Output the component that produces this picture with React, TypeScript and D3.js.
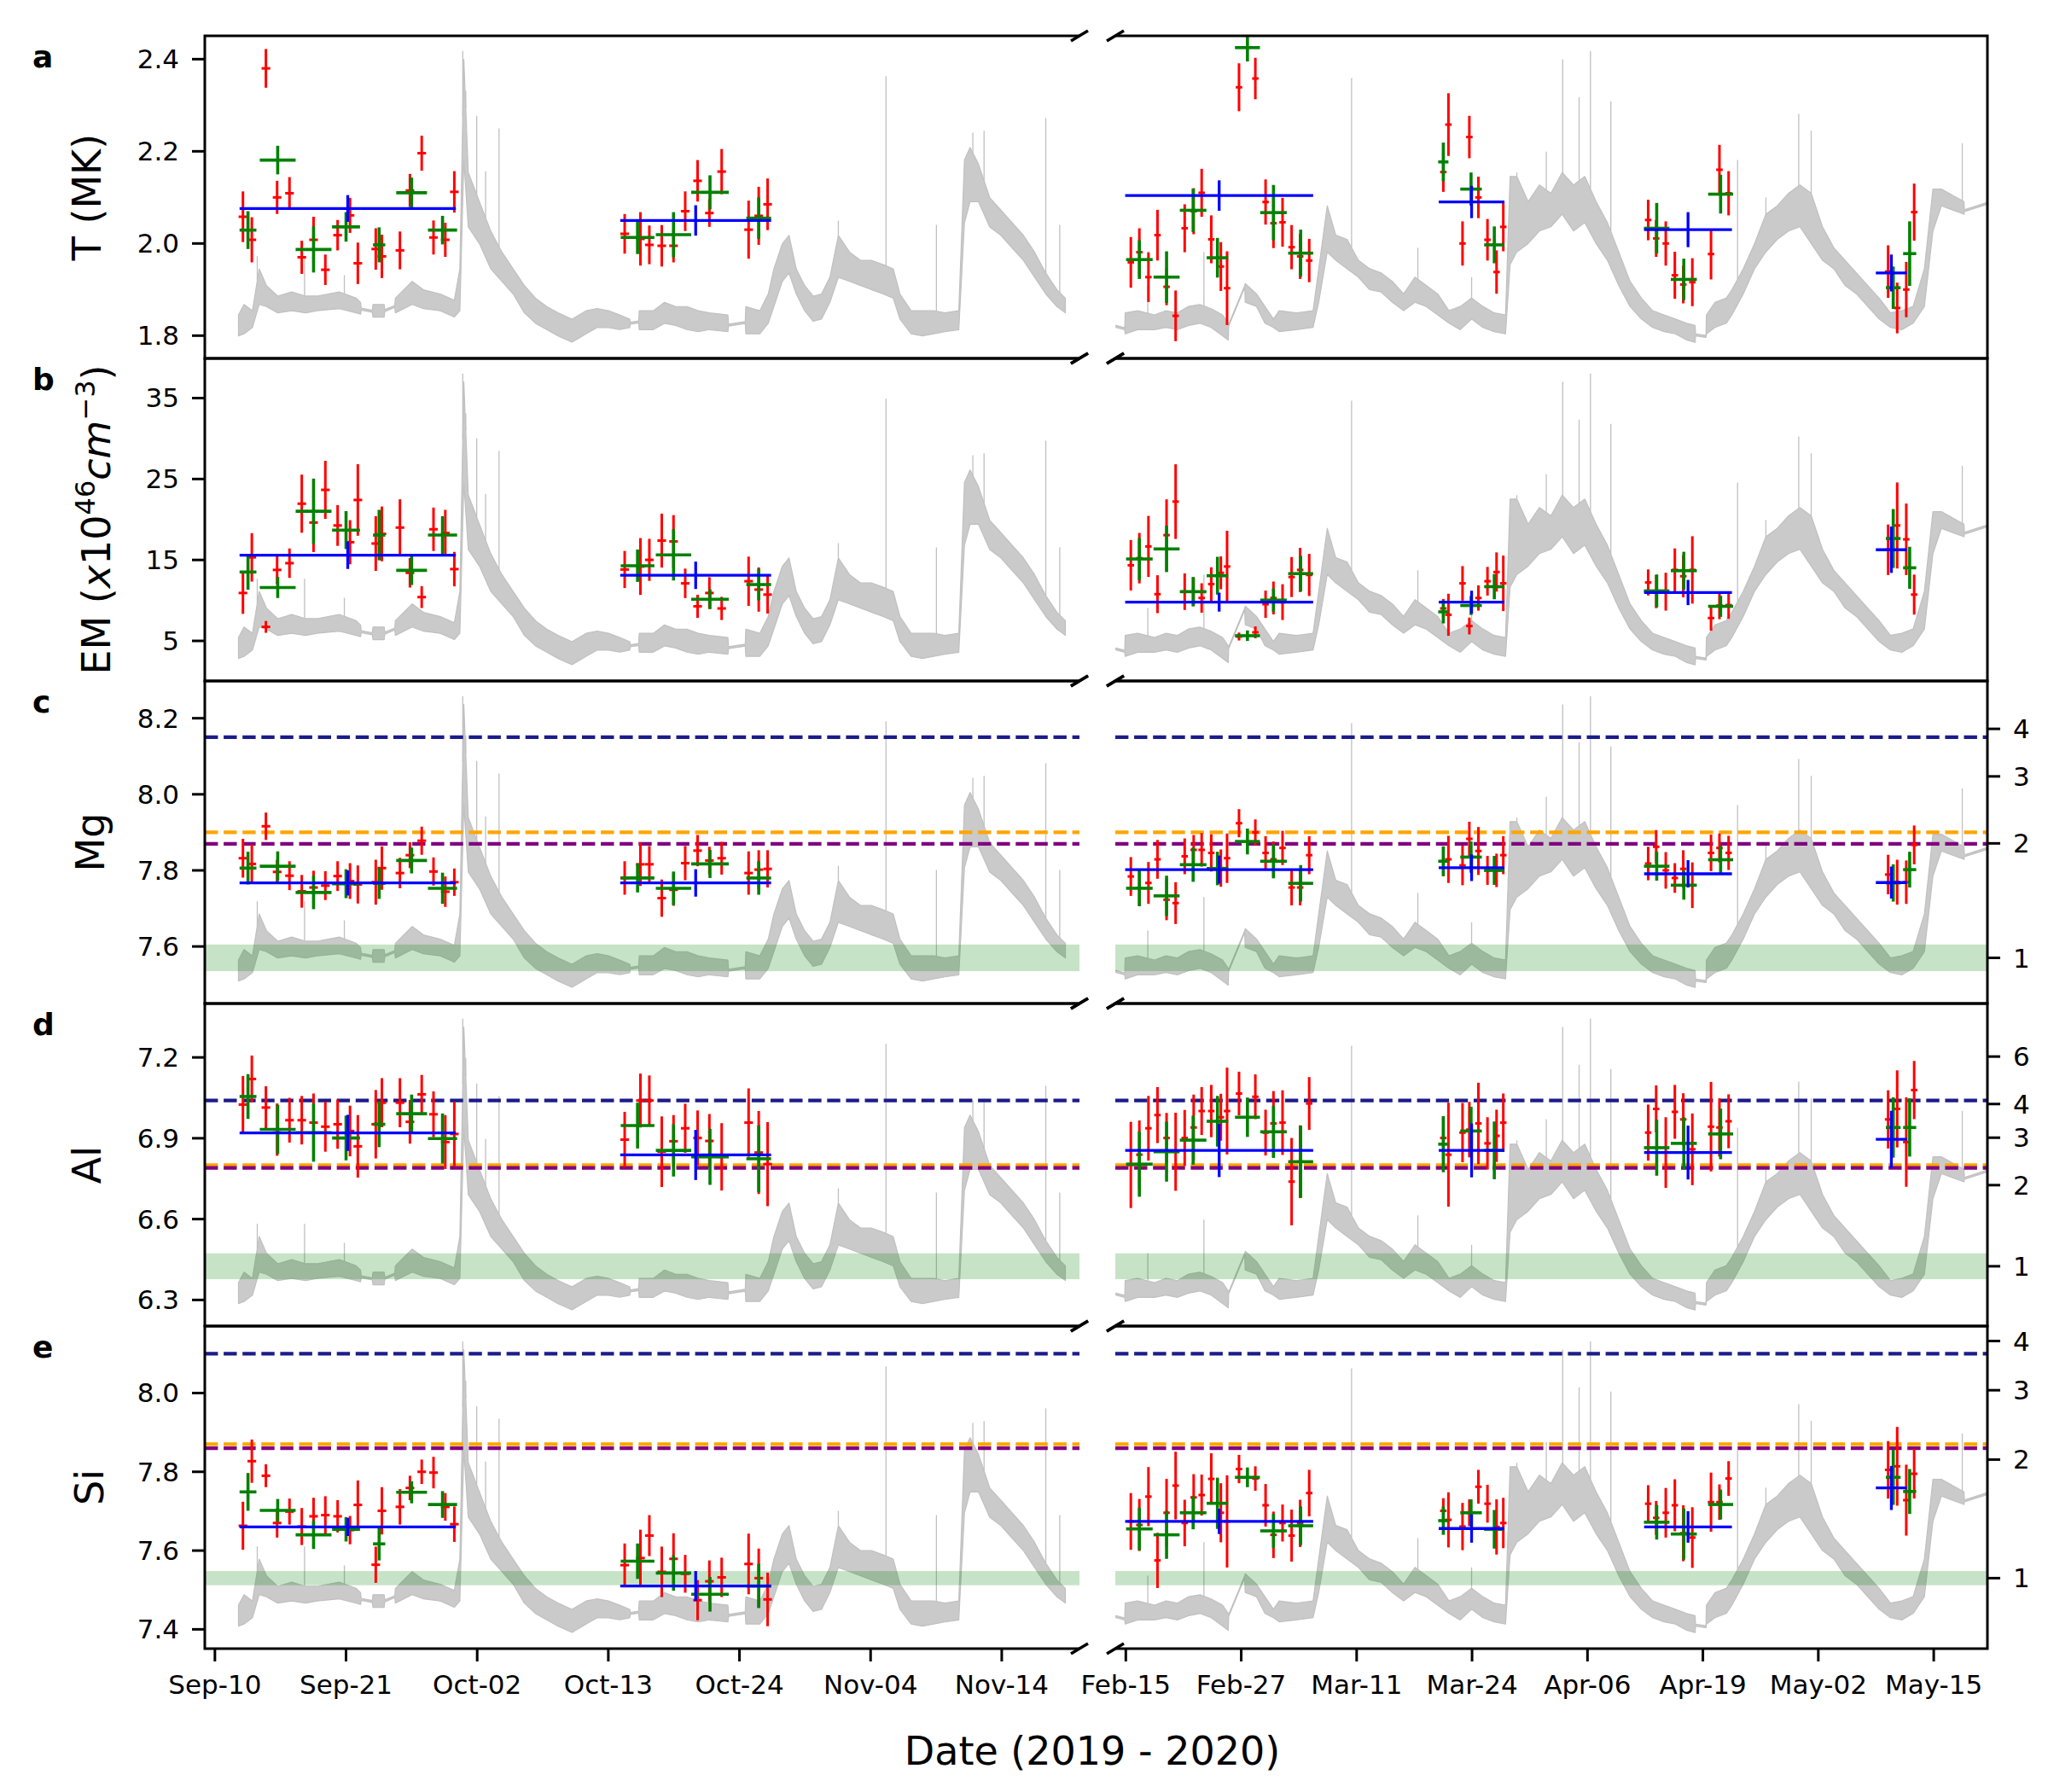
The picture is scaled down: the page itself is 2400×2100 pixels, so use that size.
import React, { useEffect } from 'react';
import * as d3 from 'd3';

// ---------------- time axes (days counted from 1 Sep 2019 on the left, 1 Feb 2020 on the right) -------------
const leftDomain = [9.66, 82.36];
const rightDomain = [13.83, 110.98];
const leftTickDays = [10.5, 21.4, 32.3, 43.2, 54.1, 65.0, 75.9];
const leftTickLabels = ['Sep-10', 'Sep-21', 'Oct-02', 'Oct-13', 'Oct-24', 'Nov-04', 'Nov-14'];
const rightTickDays = [15, 27.857, 40.714, 53.571, 66.429, 79.286, 92.143, 105];
const rightTickLabels = ['Feb-15', 'Feb-27', 'Mar-11', 'Mar-24', 'Apr-06', 'Apr-19', 'May-02', 'May-15'];

// ---------------- observation times ----------------
const redDayL = [12.83, 13.57, 14.74, 15.67, 16.70, 17.72, 18.70, 19.68, 20.70, 21.73, 22.38, 23.87, 24.38, 25.88, 26.71, 27.69, 28.67, 29.65, 30.40,
  44.56, 45.87, 46.61, 47.64, 48.62, 49.59, 50.62, 51.60, 52.62, 54.86, 55.70, 56.44];
const redDayR = [15.56, 16.51, 17.52, 18.53, 19.54, 20.55, 21.56, 22.56, 23.45, 24.52, 25.59, 26.28, 27.61, 29.43, 30.57, 31.45, 32.46, 33.47, 34.42, 35.43,
  50.37, 50.94, 52.51, 53.27, 54.28, 55.29, 56.30, 57.05,
  73.19, 74.08, 75.15, 76.16, 77.10, 78.11, 80.19, 81.13, 82.15,
  99.92, 100.93, 101.94, 102.82];
const redHalfSpan = 0.36;
const grnDayL = [13.25, 15.72, 18.70, 21.40, 24.15, 26.85, 29.42, 45.63, 48.62, 51.65, 55.70];
const grnSpanL = [0.70, 1.49, 1.49, 1.16, 0.51, 1.28, 1.21, 1.40, 1.47, 1.56, 1.03];
const grnDayR = [16.51, 19.54, 22.50, 25.21, 28.55, 31.45, 34.48, 50.37, 53.46, 56.05, 74.14, 77.16, 81.26, 100.49, 102.32];
const grnSpanR = [1.48, 1.45, 1.48, 1.20, 1.39, 1.48, 1.39, 0.57, 1.20, 1.13, 1.42, 1.45, 1.39, 0.82, 0.73];
const blueDayL = [21.54, 50.46];
const blueSpanL = [8.99, 6.27];
const blueDayR = [25.40, 53.52, 77.63, 100.28];
const blueSpanR = [10.47, 3.66, 4.89, 1.73];

// ---------------- T (MK) ----------------
const T_red = [2.058, 2.008, 2.380, 2.100, 2.109, 1.970, 2.008, 1.943, 2.018, 2.061, 1.957, 1.988, 1.972, 1.985, 2.115, 2.196, 2.013, 2.008, 2.112,
  2.021, 2.010, 1.997, 1.995, 1.995, 2.070, 2.136, 2.066, 2.156, 2.030, 2.060, 2.085,
  1.959, 1.981, 1.927, 2.018, 1.906, 1.843, 2.033, 2.070, 2.110, 2.009, 1.950, 1.903, 2.339, 2.358, 2.090, 2.044, 2.046, 1.992, 1.972, 1.963,
  2.155, 2.258, 2.000, 2.231, 2.100, 2.008, 1.938, 2.036,
  2.051, 2.011, 2.000, 1.931, 1.911, 1.916, 1.977, 2.160, 2.109,
  1.939, 1.860, 1.900, 2.068];
const T_redErr = [0.055, 0.049, 0.042, 0.036, 0.035, 0.036, 0.050, 0.033, 0.033, 0.038, 0.045, 0.045, 0.047, 0.041, 0.036, 0.038, 0.037, 0.037, 0.045,
  0.043, 0.058, 0.042, 0.045, 0.036, 0.043, 0.045, 0.030, 0.049, 0.063, 0.063, 0.056,
  0.055, 0.052, 0.054, 0.055, 0.040, 0.055, 0.052, 0.050, 0.052, 0.052, 0.053, 0.080, 0.052, 0.045, 0.049, 0.054, 0.053, 0.048, 0.049, 0.047,
  0.043, 0.068, 0.048, 0.046, 0.045, 0.045, 0.047, 0.053,
  0.044, 0.040, 0.048, 0.051, 0.041, 0.052, 0.055, 0.054, 0.048,
  0.057, 0.055, 0.060, 0.062];
const T_grn = [2.029, 2.181, 1.987, 2.036, 1.997, 2.110, 2.029, 2.013, 2.019, 2.111, 2.055,
  1.965, 1.927, 2.072, 1.969, 2.425, 2.067, 1.979, 2.177, 2.118, 1.997, 2.033, 1.922, 2.107, 1.904, 1.978];
const T_grnErr = [0.041, 0.031, 0.050, 0.032, 0.038, 0.033, 0.031, 0.036, 0.049, 0.037, 0.045,
  0.042, 0.056, 0.047, 0.043, 0.030, 0.060, 0.051, 0.042, 0.036, 0.040, 0.055, 0.045, 0.042, 0.046, 0.070];
const T_blue = [2.076, 2.050, 2.104, 2.090, 2.030, 1.936];
const T_blueErr = [0.029, 0.033, 0.033, 0.035, 0.038, 0.040];

// ---------------- EM (1e46 cm^-3) ----------------
const EM_red = [10.92, 15.32, 6.73, 13.77, 14.60, 21.95, 19.62, 23.66, 19.26, 17.19, 22.41, 17.03, 18.22, 19.00, 13.41, 10.41, 18.79, 18.33, 13.87,
  13.82, 14.19, 15.01, 17.39, 17.29, 12.11, 9.27, 10.92, 9.01, 12.37, 11.34, 10.72,
  14.34, 15.22, 16.67, 10.77, 18.07, 22.21, 11.08, 11.08, 10.30, 12.01, 13.41, 14.19, 5.54, 6.06, 9.53, 10.30, 9.79, 12.89, 13.77, 13.15,
  9.01, 8.23, 12.11, 6.84, 10.30, 12.37, 13.51, 12.11,
  12.22, 11.08, 11.08, 13.77, 12.99, 13.77, 7.82, 9.37, 9.42,
  16.26, 19.26, 17.55, 10.72];
const EM_redErr = [2.58, 2.99, 0.73, 1.77, 1.82, 3.59, 3.64, 3.59, 2.52, 2.73, 4.42, 3.38, 3.38, 3.49, 1.82, 1.35, 2.68, 2.86, 2.13,
  2.29, 3.51, 2.60, 3.33, 3.25, 1.82, 1.43, 1.95, 1.43, 3.04, 2.73, 2.34,
  3.12, 3.12, 3.77, 2.34, 4.42, 4.61, 2.26, 1.69, 1.82, 2.08, 2.03, 4.42, 0.49, 0.73, 1.69, 2.03, 2.21, 2.47, 2.73, 2.60,
  1.17, 2.60, 2.13, 1.04, 1.56, 1.77, 2.42, 3.43,
  1.61, 2.03, 2.34, 2.65, 2.60, 4.16, 1.56, 1.69, 1.69,
  3.12, 5.31, 4.42, 2.47];
const EM_grn = [13.51, 11.60, 21.02, 18.69, 18.07, 13.72, 18.07, 14.29, 15.63, 10.15, 11.96,
  15.12, 16.36, 11.08, 13.05, 5.64, 10.04, 13.31, 8.59, 9.37, 11.70, 11.18, 13.67, 9.27, 17.65, 14.03];
const EM_grnErr = [2.19, 1.30, 4.03, 2.34, 3.12, 1.82, 2.34, 2.00, 3.17, 1.22, 1.95,
  2.60, 2.86, 1.82, 2.34, 0.65, 1.43, 2.21, 1.43, 1.17, 1.56, 2.03, 2.34, 1.30, 3.64, 2.60];
const EM_blue = [15.58, 13.10, 9.79, 9.79, 10.98, 16.26];
const EM_blueErr = [1.69, 1.69, 1.17, 1.41, 1.56, 2.86];

// ---------------- Mg ----------------
const Mg_red = [7.832, 7.817, 7.916, 7.796, 7.786, 7.745, 7.755, 7.760, 7.785, 7.772, 7.763, 7.769, 7.806, 7.793, 7.840, 7.878, 7.797, 7.744, 7.769,
  7.780, 7.816, 7.816, 7.727, 7.749, 7.819, 7.852, 7.826, 7.832, 7.793, 7.802, 7.804,
  7.784, 7.754, 7.767, 7.829, 7.723, 7.714, 7.837, 7.854, 7.854, 7.846, 7.806, 7.832, 7.924, 7.900, 7.846, 7.829, 7.859, 7.755, 7.755, 7.840,
  7.824, 7.829, 7.813, 7.883, 7.851, 7.800, 7.800, 7.840,
  7.818, 7.862, 7.800, 7.780, 7.804, 7.761, 7.846, 7.859, 7.846,
  7.789, 7.769, 7.769, 7.867];
const Mg_redErr = [0.051, 0.051, 0.036, 0.032, 0.038, 0.043, 0.044, 0.038, 0.039, 0.047, 0.050, 0.059, 0.057, 0.040, 0.034, 0.037, 0.037, 0.040, 0.036,
  0.044, 0.057, 0.048, 0.049, 0.042, 0.045, 0.041, 0.036, 0.043, 0.057, 0.051, 0.049,
  0.051, 0.048, 0.055, 0.051, 0.054, 0.055, 0.047, 0.039, 0.044, 0.049, 0.049, 0.065, 0.037, 0.034, 0.044, 0.047, 0.045, 0.047, 0.047, 0.050,
  0.039, 0.062, 0.052, 0.045, 0.063, 0.038, 0.044, 0.050,
  0.044, 0.044, 0.048, 0.039, 0.049, 0.060, 0.048, 0.038, 0.045,
  0.052, 0.059, 0.057, 0.051];
const Mg_grn = [7.806, 7.811, 7.742, 7.765, 7.766, 7.826, 7.753, 7.780, 7.753, 7.817, 7.780,
  7.753, 7.733, 7.815, 7.805, 7.876, 7.824, 7.766, 7.824, 7.835, 7.800, 7.811, 7.761, 7.828, 7.767, 7.802];
const Mg_grnErr = [0.043, 0.039, 0.044, 0.038, 0.041, 0.034, 0.041, 0.038, 0.044, 0.037, 0.044,
  0.047, 0.053, 0.045, 0.044, 0.034, 0.045, 0.048, 0.039, 0.041, 0.038, 0.038, 0.038, 0.037, 0.049, 0.047];
const Mg_blue = [7.767, 7.767, 7.802, 7.807, 7.791, 7.768];
const Mg_blueErr = [0.033, 0.036, 0.037, 0.035, 0.036, 0.042];

// ---------------- Al ----------------
const Al_red = [7.025, 7.120, 7.014, 6.932, 6.967, 6.967, 6.958, 6.943, 6.952, 6.927, 6.870, 6.952, 7.032, 7.032, 6.961, 7.063, 6.989, 6.886, 6.916,
  6.895, 7.040, 7.040, 6.850, 6.889, 6.937, 6.901, 6.890, 6.831, 6.958, 6.847, 6.804,
  6.801, 6.839, 6.937, 6.986, 6.901, 6.850, 6.901, 6.940, 7.001, 7.001, 6.978, 7.001, 7.066, 7.054, 6.921, 6.955, 6.958, 6.739, 6.813, 7.029,
  6.901, 6.839, 6.921, 6.932, 6.955, 6.881, 6.909, 6.958,
  6.921, 7.009, 6.847, 6.998, 6.970, 6.859, 6.943, 6.940, 6.963,
  6.970, 7.009, 6.886, 7.079];
const Al_redErr = [0.106, 0.087, 0.079, 0.097, 0.083, 0.090, 0.108, 0.093, 0.091, 0.094, 0.116, 0.127, 0.091, 0.091, 0.081, 0.072, 0.085, 0.100, 0.120,
  0.103, 0.100, 0.093, 0.131, 0.097, 0.091, 0.102, 0.100, 0.125, 0.127, 0.154, 0.156,
  0.160, 0.127, 0.120, 0.104, 0.093, 0.145, 0.104, 0.122, 0.089, 0.097, 0.087, 0.161, 0.081, 0.083, 0.085, 0.120, 0.120, 0.162, 0.135, 0.098,
  0.077, 0.193, 0.110, 0.103, 0.151, 0.097, 0.097, 0.108,
  0.104, 0.087, 0.131, 0.100, 0.097, 0.133, 0.166, 0.108, 0.100,
  0.108, 0.143, 0.166, 0.108];
const Al_grn = [7.055, 6.933, 6.921, 6.901, 6.952, 6.991, 6.899, 6.947, 6.855, 6.831, 6.824,
  6.804, 6.850, 6.893, 6.963, 6.978, 6.924, 6.813, 6.878, 6.927, 6.855, 6.865, 6.881, 6.916, 6.940, 6.940];
const Al_grnErr = [0.083, 0.091, 0.108, 0.083, 0.085, 0.071, 0.093, 0.085, 0.097, 0.104, 0.124,
  0.121, 0.111, 0.091, 0.094, 0.073, 0.097, 0.134, 0.104, 0.090, 0.107, 0.104, 0.097, 0.094, 0.112, 0.108];
const Al_blue = [6.920, 6.838, 6.855, 6.855, 6.847, 6.896];
const Al_blueErr = [0.067, 0.093, 0.099, 0.100, 0.100, 0.106];

// ---------------- Si ----------------
const Si_red = [7.663, 7.827, 7.790, 7.670, 7.699, 7.661, 7.687, 7.690, 7.687, 7.652, 7.716, 7.564, 7.701, 7.711, 7.759, 7.800, 7.798, 7.711, 7.667,
  7.563, 7.581, 7.638, 7.546, 7.579, 7.541, 7.474, 7.522, 7.532, 7.566, 7.530, 7.476,
  7.674, 7.665, 7.737, 7.575, 7.696, 7.765, 7.670, 7.735, 7.741, 7.782, 7.696, 7.674, 7.807, 7.783, 7.715, 7.640, 7.670, 7.638, 7.669, 7.746,
  7.701, 7.678, 7.661, 7.696, 7.762, 7.719, 7.660, 7.670,
  7.719, 7.683, 7.696, 7.715, 7.644, 7.633, 7.723, 7.723, 7.783,
  7.805, 7.814, 7.728, 7.795];
const Si_redErr = [0.061, 0.055, 0.029, 0.037, 0.033, 0.047, 0.047, 0.048, 0.041, 0.036, 0.062, 0.046, 0.060, 0.045, 0.031, 0.031, 0.040, 0.035, 0.045,
  0.055, 0.072, 0.052, 0.064, 0.065, 0.048, 0.051, 0.053, 0.050, 0.077, 0.075, 0.068,
  0.072, 0.066, 0.075, 0.070, 0.086, 0.086, 0.059, 0.059, 0.052, 0.065, 0.075, 0.117, 0.036, 0.031, 0.054, 0.059, 0.047, 0.066, 0.060, 0.059,
  0.032, 0.070, 0.060, 0.034, 0.043, 0.048, 0.070, 0.064,
  0.047, 0.043, 0.063, 0.066, 0.071, 0.077, 0.075, 0.045, 0.044,
  0.073, 0.100, 0.090, 0.063];
const Si_grn = [7.749, 7.702, 7.640, 7.654, 7.617, 7.748, 7.717, 7.573, 7.543, 7.489, 7.510,
  7.655, 7.640, 7.696, 7.720, 7.786, 7.650, 7.663, 7.676, 7.696, 7.654, 7.672, 7.642, 7.717, 7.786, 7.750];
const Si_grnErr = [0.048, 0.029, 0.036, 0.031, 0.042, 0.028, 0.034, 0.045, 0.045, 0.044, 0.056,
  0.054, 0.061, 0.042, 0.065, 0.025, 0.043, 0.049, 0.036, 0.034, 0.049, 0.044, 0.065, 0.038, 0.070, 0.057];
const Si_blue = [7.660, 7.510, 7.674, 7.656, 7.660, 7.759];
const Si_blueErr = [0.023, 0.038, 0.032, 0.036, 0.040, 0.056];

// ---------------- reference abundances ----------------
const coronalFeldman = [NaN, NaN, 8.15, 7.04, 8.10];
const coronalOrange = [NaN, NaN, 7.90, 6.80, 7.87];
const coronalPurple = [NaN, NaN, 7.87, 6.79, 7.86];
const photospheric = [NaN, NaN, 7.57, 6.425, 7.53];
const photosphericErr = [NaN, NaN, 0.035, 0.048, 0.018];
const fipTicks = [[], [], [1, 2, 3, 4], [1, 2, 3, 4, 6], [1, 2, 3, 4]];

// ---------------- axes ----------------
const panelLetters = ['a', 'b', 'c', 'd', 'e'];
const yDomains = [[1.7506, 2.4506], [0.05, 39.9], [7.450, 8.298], [6.203, 7.400], [7.351, 8.170]];
const yTicks = [[1.8, 2.0, 2.2, 2.4], [5, 15, 25, 35], [7.6, 7.8, 8.0, 8.2], [6.3, 6.6, 6.9, 7.2], [7.4, 7.6, 7.8, 8.0]];
const yTickFormats = ['.1f', 'd', '.1f', '.1f', '.1f'];

// ---------------- background X-ray light curve (relative log level, 0..100) ----------------
const leftTraceDay = [12.46, 12.92, 13.62, 14.18, 14.79, 15.72, 16.88, 18.05, 18.98, 20.84, 22.24, 22.61, 22.66, 23.58, 23.64, 24.57, 24.62, 25.45, 25.50, 26.90,
  27.83, 29.23, 30.40, 30.86, 31.19, 31.56, 32.49, 33.43, 34.36, 35.29, 36.22, 37.15, 38.08, 39.02, 40.18, 41.35, 42.28, 43.21, 44.14, 44.98,
  45.03, 45.72, 45.77, 46.94, 47.87, 48.80, 49.73, 50.67, 51.60, 53.14, 53.19, 54.58, 54.63, 55.79, 56.49, 56.96, 57.66, 58.22, 58.82, 59.52,
  60.22, 60.92, 61.62, 62.32, 63.25, 64.18, 65.11, 66.04, 66.88, 67.44, 68.37, 69.31, 70.24, 71.17, 72.33, 72.80, 73.27, 73.97, 74.90, 75.83,
  76.76, 77.70, 78.63, 79.56, 80.49, 81.19];
const leftTraceLow = [6.98, 7.63, 9.58, 16.72, 16.07, 14.12, 14.77, 14.12, 14.77, 15.42, 14.12, 13.73, 15.0, 14.3, 12.82, 12.82, 14.5, 15.8, 14.12, 16.72,
  15.42, 14.77, 12.82, 14.77, 61.53, 40.76, 35.56, 27.76, 23.87, 19.97, 14.12, 10.87, 8.92, 6.98, 5.03, 7.63, 9.58, 9.58, 8.92, 9.58,
  10.6, 11.0, 8.92, 8.92, 10.87, 10.22, 8.92, 8.27, 8.92, 8.27, 10.0, 10.8, 7.63, 7.63, 10.87, 16.07, 23.87, 26.47, 19.97, 14.77,
  11.52, 12.17, 17.37, 25.17, 23.87, 22.57, 21.27, 19.97, 18.67, 12.17, 7.63, 6.98, 7.63, 8.27, 8.92, 42.06, 48.56, 48.56, 40.76, 38.16,
  34.26, 30.37, 25.17, 19.97, 16.07, 14.12];
const leftTraceHigh = [13.47, 16.72, 14.77, 27.76, 22.57, 19.32, 20.62, 19.32, 19.32, 20.62, 18.67, 17.37, 15.6, 14.9, 16.72, 16.72, 15.1, 16.4, 18.67, 23.87,
  21.27, 19.97, 18.02, 27.76, 92.73, 57.66, 48.56, 39.46, 32.96, 27.76, 22.57, 18.67, 16.07, 14.12, 12.17, 14.77, 15.42, 14.77, 13.47, 12.17,
  11.2, 11.6, 14.77, 14.77, 17.37, 16.07, 16.07, 14.77, 14.12, 13.47, 10.6, 11.4, 16.07, 14.77, 19.97, 27.76, 35.56, 38.16, 27.76, 22.57,
  19.32, 19.97, 25.17, 38.16, 32.96, 30.37, 30.37, 29.07, 27.76, 19.97, 14.77, 14.77, 14.77, 14.12, 14.77, 61.53, 65.43, 60.23, 49.86, 45.96,
  42.06, 38.16, 32.96, 26.47, 21.27, 18.67];
const rightTraceDay = [13.90, 14.88, 14.93, 16.32, 18.21, 19.47, 20.73, 21.99, 23.25, 24.51, 25.78, 26.41, 26.46, 28.25, 28.30, 29.56, 30.50, 31.45, 32.08, 33.97,
  35.86, 36.49, 37.44, 38.39, 39.65, 40.91, 42.17, 43.43, 44.69, 45.95, 47.21, 48.47, 49.74, 51.00, 52.26, 53.52, 54.78, 56.04, 57.30, 57.81,
  58.56, 59.82, 61.08, 62.35, 63.61, 64.87, 66.13, 67.39, 68.65, 69.91, 71.17, 72.43, 73.69, 74.96, 76.22, 77.48, 78.42, 78.47, 79.63, 79.68,
  80.63, 81.89, 82.52, 83.78, 85.04, 86.30, 87.57, 88.83, 90.09, 91.35, 92.61, 93.87, 95.13, 96.39, 97.65, 98.92, 100.18, 101.44, 102.70, 103.96,
  104.91, 105.85, 108.37, 108.42, 110.90];
const rightTraceLow = [9.6, 8.9, 7.6, 8.9, 8.9, 9.6, 8.9, 10.2, 10.9, 9.6, 7.0, 5.7, 10.0, 22.0, 17.4, 16.1, 10.9, 9.6, 8.3, 8.9,
  9.6, 17.4, 33.0, 30.4, 27.8, 25.2, 21.3, 20.6, 17.4, 14.8, 17.4, 16.1, 13.5, 10.9, 8.9, 12.2, 9.6, 8.3, 7.6, 29.1,
  33.0, 35.6, 39.5, 40.8, 44.7, 39.5, 42.1, 35.6, 30.4, 22.6, 16.1, 12.2, 9.6, 8.3, 7.6, 5.7, 5.0, 7.0, 6.5, 7.6,
  9.6, 10.9, 13.5, 20.0, 27.8, 33.0, 36.9, 39.5, 40.8, 35.6, 30.4, 27.8, 22.6, 20.0, 16.1, 12.2, 9.6, 8.9, 10.9, 16.1,
  39.5, 47.3, 44.7, 45.5, 47.7];
const rightTraceHigh = [10.2, 9.5, 14.1, 14.8, 13.5, 14.8, 14.1, 16.1, 16.7, 15.4, 13.5, 10.9, 10.6, 22.6, 23.2, 20.0, 16.1, 12.2, 14.8, 14.1,
  14.8, 27.8, 47.3, 38.2, 36.9, 30.4, 27.8, 26.5, 23.9, 20.0, 25.2, 22.6, 20.0, 14.8, 16.1, 18.7, 16.1, 14.1, 13.5, 56.4,
  56.4, 48.6, 53.8, 51.2, 57.6, 53.8, 56.4, 48.6, 42.1, 33.0, 23.9, 18.7, 14.8, 13.5, 12.2, 10.9, 10.2, 7.6, 7.1, 13.5,
  17.4, 18.7, 21.3, 27.8, 35.6, 44.7, 47.3, 51.2, 53.8, 51.2, 40.8, 34.3, 30.4, 26.5, 22.6, 18.7, 14.1, 14.8, 16.1, 27.8,
  52.5, 52.5, 48.6, 46.1, 48.3];
const leftSpikeDay = [14.02, 17.95, 21.26, 31.10, 31.35, 32.26, 33.00, 34.12, 62.32, 66.28, 70.47, 73.50, 74.43, 79.56, 80.72];
const leftSpikeLevel = [31.7, 31.7, 25.8, 95.3, 83.0, 75.2, 58.0, 71.3, 42.7, 87.5, 41.4, 70.0, 70.6, 74.5, 41.4];
const rightSpikeDay = [17.45, 23.70, 40.15, 47.53, 53.52, 58.56, 61.84, 63.67, 65.50, 66.76, 69.03, 83.15, 86.30, 89.96, 91.35, 108.18];
const rightSpikeLevel = [22.6, 33.0, 86.9, 34.3, 25.2, 57.6, 64.1, 92.7, 81.0, 95.3, 79.7, 61.5, 49.9, 75.8, 70.6, 66.7];

// ------------------------------------------------------------------------------------------------
const redSets = [[T_red, T_redErr], [EM_red, EM_redErr], [Mg_red, Mg_redErr], [Al_red, Al_redErr], [Si_red, Si_redErr]];
const grnSets = [[T_grn, T_grnErr], [EM_grn, EM_grnErr], [Mg_grn, Mg_grnErr], [Al_grn, Al_grnErr], [Si_grn, Si_grnErr]];
const blueSets = [[T_blue, T_blueErr], [EM_blue, EM_blueErr], [Mg_blue, Mg_blueErr], [Al_blue, Al_blueErr], [Si_blue, Si_blueErr]];

const FONT = "'DejaVu Sans', 'Liberation Sans', sans-serif";
const W = 2400, H = 2100;
const TOP = 42, PH = 378;
const LX0 = 240, LX1 = 1265, RX0 = 1307, RX1 = 2329;
const RED = '#ff0000', GREEN = '#008000', BLUE = '#0000ff';
const TRACE_FILL = '#cacaca', TRACE_LINE = '#c0c0c0';

function interp(xs: number[], ys: number[], t: number) {
  const i = d3.bisectLeft(xs, t);
  if (i <= 0) return ys[0];
  if (i >= xs.length) return ys[ys.length - 1];
  const f = (t - xs[i - 1]) / (xs[i] - xs[i - 1]);
  return ys[i - 1] + f * (ys[i] - ys[i - 1]);
}

function ErrBar({ x, y, xs, ys, color, w }: any) {
  return (
    <g>
      <line x1={x - xs} x2={x + xs} y1={y} y2={y} stroke={color} strokeWidth={w} />
      <line x1={x} x2={x} y1={y - ys} y2={y + ys} stroke={color} strokeWidth={w} />
    </g>
  );
}

export default function App() {
  useEffect(() => {
    document.body.style.margin = '0';
  }, []);

  const halves = [
    {
      x: d3.scaleLinear().domain(leftDomain).range([LX0, LX1]),
      x0: LX0, x1: LX1,
      tDay: leftTraceDay, tLow: leftTraceLow, tHigh: leftTraceHigh,
      sDay: leftSpikeDay, sLev: leftSpikeLevel,
      redDay: redDayL, grnDay: grnDayL, grnSpan: grnSpanL, blueDay: blueDayL, blueSpan: blueSpanL,
      redOff: 0, grnOff: 0, blueOff: 0,
      ticks: leftTickDays, tickLabels: leftTickLabels,
    },
    {
      x: d3.scaleLinear().domain(rightDomain).range([RX0, RX1]),
      x0: RX0, x1: RX1,
      tDay: rightTraceDay, tLow: rightTraceLow, tHigh: rightTraceHigh,
      sDay: rightSpikeDay, sLev: rightSpikeLevel,
      redDay: redDayR, grnDay: grnDayR, grnSpan: grnSpanR, blueDay: blueDayR, blueSpan: blueSpanR,
      redOff: redDayL.length, grnOff: grnDayL.length, blueOff: blueDayL.length,
      ticks: rightTickDays, tickLabels: rightTickLabels,
    },
  ];

  const panels = panelLetters.map((letter, i) => {
    const top = TOP + i * PH;
    const bot = top + PH;
    const y = d3.scaleLinear().domain(yDomains[i]).range([bot, top]);
    const ty = d3.scaleLinear().domain([0, 100]).range([bot, top]);
    const fmt = d3.format(yTickFormats[i]);
    const [rv, re] = redSets[i];
    const [gv, ge] = grnSets[i];
    const [bv, be] = blueSets[i];
    const hasRef = !isNaN(photospheric[i]);

    const halfEls = halves.map((hv, h) => {
      const x = hv.x;
      const clipId = `clip-${i}-${h}`;
      const area = d3.area<number>()
        .x((d) => x(d))
        .y0((_d, k) => ty(hv.tLow[k]))
        .y1((_d, k) => ty(hv.tHigh[k]));
      const pathD = area(hv.tDay) || '';
      return (
        <g key={`h${h}`}>
          <clipPath id={clipId}>
            <rect x={hv.x0} y={top} width={hv.x1 - hv.x0} height={PH} />
          </clipPath>
          <g clipPath={`url(#${clipId})`}>
            <path d={pathD} fill={TRACE_FILL} stroke={TRACE_LINE} strokeWidth={1.2} strokeLinejoin="round" />
            {hv.sDay.map((d, k) => (
              <line key={`s${k}`} x1={x(d)} x2={x(d)} y1={ty(interp(hv.tDay, hv.tHigh, d))} y2={ty(hv.sLev[k])}
                stroke={TRACE_LINE} strokeWidth={1.3} />
            ))}
            {hasRef && (
              <>
                <rect x={hv.x0} width={hv.x1 - hv.x0}
                  y={y(photospheric[i] + photosphericErr[i])}
                  height={y(photospheric[i] - photosphericErr[i]) - y(photospheric[i] + photosphericErr[i])}
                  fill={GREEN} fillOpacity={0.22} />
                <line x1={hv.x0} x2={hv.x1} y1={y(coronalFeldman[i])} y2={y(coronalFeldman[i])}
                  stroke="#1c1c8c" strokeWidth={4.2} strokeDasharray="15.4 6.7" />
                <line x1={hv.x0} x2={hv.x1} y1={y(coronalOrange[i])} y2={y(coronalOrange[i])}
                  stroke="#ffa500" strokeWidth={4.2} strokeDasharray="15.4 6.7" />
                <line x1={hv.x0} x2={hv.x1} y1={y(coronalPurple[i])} y2={y(coronalPurple[i])}
                  stroke="#800080" strokeWidth={4.2} strokeDasharray="15.4 6.7" />
              </>
            )}
            {hv.redDay.map((d, k) => {
              const v = rv[hv.redOff + k], e = re[hv.redOff + k];
              return <ErrBar key={`r${k}`} x={x(d)} y={y(v)} xs={x(d + redHalfSpan) - x(d)}
                ys={Math.abs(y(v - e) - y(v))} color={RED} w={3} />;
            })}
            {hv.grnDay.map((d, k) => {
              const v = gv[hv.grnOff + k], e = ge[hv.grnOff + k];
              return <ErrBar key={`g${k}`} x={x(d)} y={y(v)} xs={x(d + hv.grnSpan[k]) - x(d)}
                ys={Math.abs(y(v - e) - y(v))} color={GREEN} w={3.6} />;
            })}
            {hv.blueDay.map((d, k) => {
              const v = bv[hv.blueOff + k], e = be[hv.blueOff + k];
              return <ErrBar key={`b${k}`} x={x(d)} y={y(v)} xs={x(d + hv.blueSpan[k]) - x(d)}
                ys={Math.abs(y(v - e) - y(v))} color={BLUE} w={3.3} />;
            })}
          </g>
        </g>
      );
    });

    const spines = (
      <g fill="none" stroke="#000" strokeWidth={3} strokeLinejoin="miter">
        <path d={`M${LX1},${top} H${LX0} V${bot} H${LX1}`} />
        <path d={`M${RX0},${top} H${RX1} V${bot} H${RX0}`} />
        {[LX1, RX0].map((bx) => [top, bot].map((by) => (
          <line key={`${bx}-${by}`} x1={bx - 10} y1={by + 6} x2={bx + 10} y2={by - 6} strokeWidth={3.5} />
        )))}
      </g>
    );

    const yAxis = (
      <g>
        {yTicks[i].map((t) => (
          <g key={`yt${t}`}>
            <line x1={LX0 - 15} x2={LX0} y1={y(t)} y2={y(t)} stroke="#000" strokeWidth={3} />
            <text x={LX0 - 30} y={y(t) + 11} textAnchor="end" fontSize={31} fontFamily={FONT}>{fmt(t)}</text>
          </g>
        ))}
      </g>
    );

    const rightAxis = hasRef ? (
      <g>
        {fipTicks[i].map((f) => {
          const yy = y(photospheric[i] + Math.log10(f));
          return (
            <g key={`ft${f}`}>
              <line x1={RX1} x2={RX1 + 15} y1={yy} y2={yy} stroke="#000" strokeWidth={3} />
              <text x={RX1 + 30} y={yy + 11} textAnchor="start" fontSize={31} fontFamily={FONT}>{f}</text>
            </g>
          );
        })}
      </g>
    ) : null;

    const xAxis = i === panelLetters.length - 1 ? (
      <g>
        {halves.map((hv, h) => hv.ticks.map((t, k) => (
          <g key={`xt${h}-${k}`}>
            <line x1={hv.x(t)} x2={hv.x(t)} y1={bot} y2={bot + 15} stroke="#000" strokeWidth={3} />
            <text x={hv.x(t)} y={bot + 53} textAnchor="middle" fontSize={31} fontFamily={FONT}>{hv.tickLabels[k]}</text>
          </g>
        )))}
      </g>
    ) : null;

    const cy = (top + bot) / 2;
    let ylabel: any;
    if (i === 0) {
      ylabel = <text transform={`translate(118,${cy}) rotate(-90)`} textAnchor="middle" fontSize={46} fontFamily={FONT}>T (MK)</text>;
    } else if (i === 1) {
      ylabel = (
        <text transform={`translate(129,${cy}) rotate(-90)`} textAnchor="middle" fontSize={46} fontFamily={FONT}>
          EM (<tspan fontStyle="italic">x</tspan>10<tspan dy={-18} fontSize={32}>46</tspan><tspan dy={18} fontStyle="italic">cm</tspan><tspan dy={-18} fontSize={32}>−3</tspan><tspan dy={18}>)</tspan>
        </text>
      );
    } else {
      const name = ['', '', 'Mg', 'Al', 'Si'][i];
      const bx = [0, 0, 122, 118, 121][i];
      ylabel = <text transform={`translate(${bx},${cy}) rotate(-90)`} textAnchor="middle" fontSize={46} fontFamily={FONT}>{name}</text>;
    }

    return (
      <g key={letter}>
        {halfEls}
        {spines}
        {yAxis}
        {rightAxis}
        {xAxis}
        {ylabel}
        <text x={38} y={top + 37} fontSize={36} fontWeight="bold" fontFamily={FONT}>{letter}</text>
      </g>
    );
  });

  return (
    <svg width={W} height={H} viewBox={`0 0 ${W} ${H}`} style={{ position: 'absolute', left: 0, top: 0, display: 'block' }}>
      <rect x={0} y={0} width={W} height={H} fill="#fff" />
      {panels}
      <text x={1280} y={2068} textAnchor="middle" fontSize={46} fontFamily={FONT}>Date (2019 - 2020)</text>
    </svg>
  );
}
